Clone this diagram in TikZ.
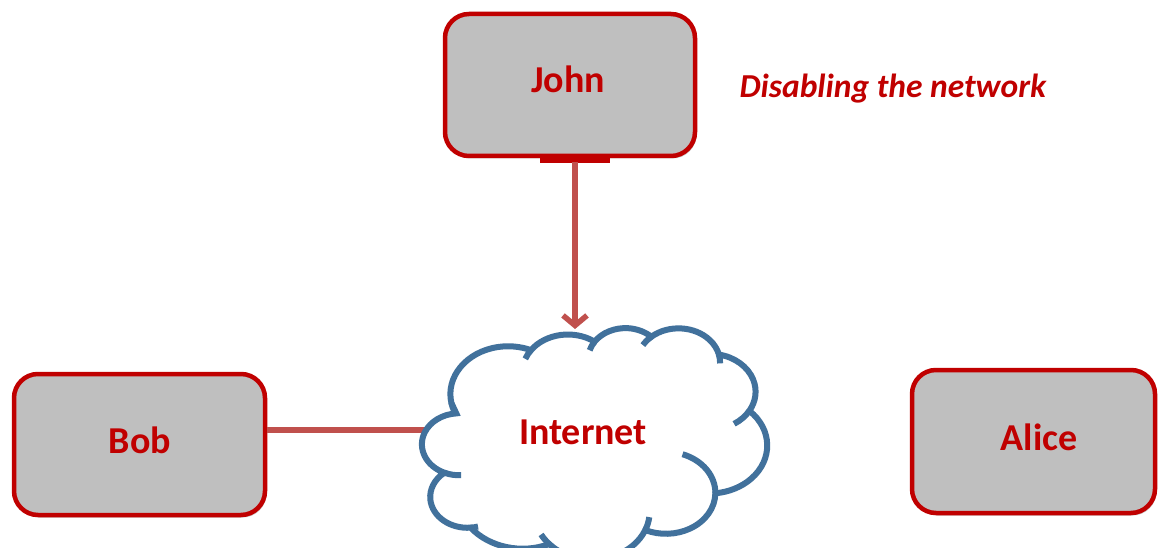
\documentclass[tikz,border=0pt]{standalone}
\usepackage{fontspec}
\setmainfont{Carlito}
\usetikzlibrary{arrows.meta,shadows}
\definecolor{dred}{HTML}{C00000}
\definecolor{lred}{HTML}{C0504D}
\definecolor{cblue}{HTML}{41719C}
\definecolor{boxgray}{HTML}{BFBFBF}
\begin{document}
\begin{tikzpicture}[x=1pt,y=-1pt,
  person/.style={draw=dred, line width=4.5pt, fill=boxgray, rounded corners=24pt,
    drop shadow={shadow xshift=1.5pt, shadow yshift=-2.5pt, opacity=0.3, fill=black!70},
    inner sep=0pt},
  lbl/.style={font=\bfseries\fontsize{38}{40}\selectfont, text=dred},
  link/.style={draw=lred, line width=5.5pt},
  cloudline/.style={draw=cblue, line width=6pt}]
\useasboundingbox (0,0) rectangle (1159,548);
\clip (0,0) rectangle (1159,548);
\fill[white] (0,0) rectangle (1159,548);

% boxes
\node[person, minimum width=250pt, minimum height=142pt] (john) at (570,85) {};
\node[person, minimum width=251pt, minimum height=141pt] (bob) at (139.5,444.5) {};
\node[person, minimum width=243pt, minimum height=143pt] (alice) at (1033.5,441.5) {};

\node[lbl, anchor=base] (johnt) at (568,93) {John};
\node[lbl, anchor=base] (bobt) at (140,453) {Bob};
\node[lbl, anchor=base] (alicet) at (1039,450) {Alice};
\node[anchor=base west, font=\bfseries\itshape\fontsize{33.5}{35}\selectfont, text=dred] (note) at (736,98) {Disabling the network};

% connection stub on John
\draw[dred, line width=7pt] ([xshift=-30pt,yshift=-1.5pt]john.south) -- ([xshift=40pt,yshift=-1.5pt]john.south);

% Bob link
\coordinate (cloudW) at (426,430);
\draw[link] (cloudW -| bob.east) -- (cloudW);

% cloud
\begin{scope}[shift={(418,328)}, x=0.855pt, y=-0.52083pt]
\filldraw[cloudline, fill=white] (39,143.7) coordinate (J1)
 arc[start angle=-190.4875, delta angle=123.7805, x radius=67.53, y radius=91.90] coordinate (J2)
 arc[start angle=-144.1024, delta angle=89.9452, x radius=53.33, y radius=72.67] coordinate (J3)
 arc[start angle=-145.8079, delta angle=99.7230, x radius=43.65, y radius=59.45] coordinate (J4)
 arc[start angle=-130.9861, delta angle=117.2417, x radius=48.57, y radius=65.95] coordinate (J5)
 arc[start angle=-78.7089, delta angle=109.0269, x radius=53.33, y radius=72.73] coordinate (J6)
 arc[start angle=-46.2673, delta angle=130.2690, x radius=67.75, y radius=92.20] coordinate (J7)
 arc[start angle=0.6250, delta angle=114.0333, x radius=57.85, y radius=78.67] coordinate (J8)
 arc[start angle=22.4516, delta angle=115.1726, x radius=67.52, y radius=92.15] coordinate (J9)
 arc[start angle=66.2426, delta angle=75.7110, x radius=77.20, y radius=105.43] coordinate (J10)
 arc[start angle=-274.9421, delta angle=146.7356, x radius=43.60, y radius=59.18] coordinate (J11)
 arc[start angle=-246.8285, delta angle=152.5189, x radius=43.45, y radius=59.45] -- cycle;
\draw[cloudline]
 (J11) arc[start angle=-246.8285, delta angle=-26.4295, x radius=43.45, y radius=59.45]
 (J10) arc[start angle=-274.9421, delta angle=-11.4475, x radius=43.60, y radius=59.18]
 (J9) arc[start angle=137.6242, delta angle=14.0811, x radius=67.52, y radius=92.15]
 (J8) arc[start angle=22.4516, delta angle=-15.9984, x radius=67.52, y radius=92.15]
 (J7) arc[start angle=0.6250, delta angle=-70.9174, x radius=57.85, y radius=78.67]
 (J6) arc[start angle=30.3180, delta angle=27.7515, x radius=53.33, y radius=72.73]
 (J5) arc[start angle=-13.7443, delta angle=14.8589, x radius=48.57, y radius=65.95]
 (J4) arc[start angle=-130.9861, delta angle=-18.1954, x radius=48.57, y radius=65.95]
 (J3) arc[start angle=-145.8079, delta angle=-17.6864, x radius=43.65, y radius=59.45]
 (J2) arc[start angle=-144.1024, delta angle=-15, x radius=53.33, y radius=72.67]
 (J1) arc[start angle=-190.4875, delta angle=-11.8582, x radius=67.53, y radius=91.90];
\end{scope}

\node[lbl, anchor=base] (internet) at (583,444) {Internet};

% John -> Internet arrow
\coordinate (cloudN) at (575,329);
\draw[link, -{Straight Barb[length=10pt, width=24pt]}] ([yshift=-4pt]cloudN |- john.south) -- (cloudN);
\end{tikzpicture}
\end{document}
